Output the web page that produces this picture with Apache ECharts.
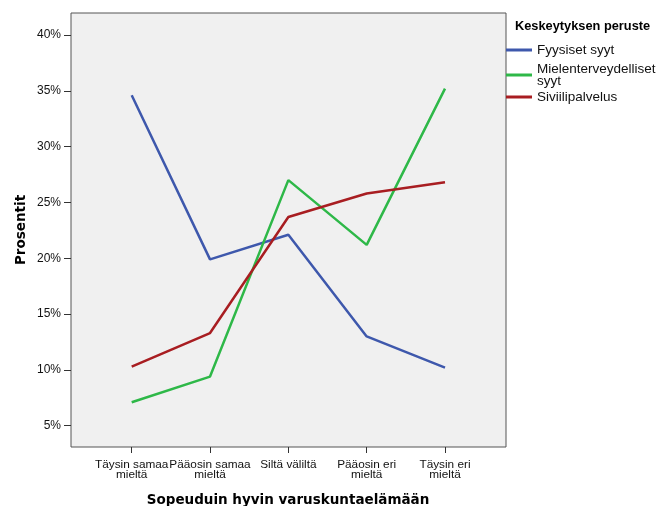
<!DOCTYPE html>
<html>
<head>
<meta charset="utf-8">
<script src="https://cdn.jsdelivr.net/npm/echarts@6/dist/echarts.min.js"></script>
<style>
html,body{margin:0;padding:0;background:#fff;}
#c{width:660px;height:506px;}
</style>
</head>
<body>
<div id="c"></div>
<script>
const categories = ['Täysin samaa\nmieltä', 'Pääosin samaa\nmieltä', 'Siltä väliltä', 'Pääosin eri\nmieltä', 'Täysin eri\nmieltä'];
const seriesNames = ['Fyysiset syyt', 'Mielenterveydelliset syyt', 'Siviilipalvelus'];
const fyysiset = [34.6, 19.9, 22.1, 13.0, 10.2];
const mielenterveys = [7.1, 9.4, 27.0, 21.2, 35.2];
const siviili = [10.3, 13.3, 23.7, 25.8, 26.8];
const yMin = 5, yMax = 40, yStep = 5;
const xTitle = 'Sopeuduin hyvin varuskuntaelämään';
const yTitle = 'Prosentit';
const legendTitle = 'Keskeytyksen peruste';

const colors = ['#3E58AC', '#2EB848', '#A81D21'];
const values = [fyysiset, mielenterveys, siviili];
const font = 'Liberation Sans, Arial, sans-serif';

const chart = echarts.init(document.getElementById('c'), null, {renderer: 'canvas'});

const legendTops = [43, 62, 90];
const legends = seriesNames.map((n, i) => ({
  data: [n],
  left: 506, top: legendTops[i],
  orient: 'vertical', padding: 0,
  icon: 'rect', itemWidth: 26, itemHeight: 3,
  selectedMode: false,
  formatter: name => name.length > 20 ? name.replace(' ', '\n') : name,
  textStyle: {fontFamily: font, fontSize: 13.5, color: '#111', lineHeight: i === 1 ? 12 : 14}
}));

chart.setOption({
  animation: false,
  color: colors,
  grid: [
    {left: 71, right: 154, top: 13, bottom: 59, show: true, backgroundColor: '#f0f0f0', borderColor: '#555', borderWidth: 1},
    {left: 131.7, right: 215, top: 35, bottom: 80.3}
  ],
  xAxis: [
    {gridIndex: 0, type: 'value', show: false, min: 0, max: 1},
    {
      gridIndex: 1, type: 'category', data: categories, boundaryGap: false,
      offset: 21.3,
      axisLine: {show: false},
      axisTick: {show: true, length: 6, lineStyle: {color: '#333', width: 1}},
      axisLabel: {interval: 0, margin: 12, fontFamily: font, fontSize: 11.8, lineHeight: 10.5, color: '#111'},
      splitLine: {show: false}
    }
  ],
  yAxis: [
    {gridIndex: 0, type: 'value', show: false, min: 0, max: 1},
    {
      gridIndex: 1, type: 'value', min: yMin, max: yMax, interval: yStep,
      offset: 60.7,
      axisLine: {show: false},
      axisTick: {show: true, length: 7, lineStyle: {color: '#333', width: 1}},
      axisLabel: {margin: 10, formatter: '{value}%', fontFamily: font, fontSize: 12, color: '#111'},
      splitLine: {show: false}
    }
  ],
  legend: legends,
  graphic: [
    {type: 'text', x: 288, y: 500, style: {text: xTitle, align: 'center', verticalAlign: 'middle', font: 'bold 13.5px "DejaVu Sans"', fill: '#000'}},
    {type: 'text', x: 21, y: 230, rotation: Math.PI / 2, style: {text: yTitle, align: 'center', verticalAlign: 'middle', font: 'bold 13.5px "DejaVu Sans"', fill: '#000'}},
    {type: 'text', x: 515, y: 26, style: {text: legendTitle, align: 'left', verticalAlign: 'middle', font: 'bold 12.8px "Liberation Sans"', fill: '#000'}}
  ],
  series: seriesNames.map((n, i) => ({
    name: n, type: 'line', xAxisIndex: 1, yAxisIndex: 1,
    data: values[i], symbol: 'none', smooth: false,
    lineStyle: {width: 2.5, color: colors[i]},
    itemStyle: {color: colors[i]}
  }))
});
</script>
</body>
</html>
